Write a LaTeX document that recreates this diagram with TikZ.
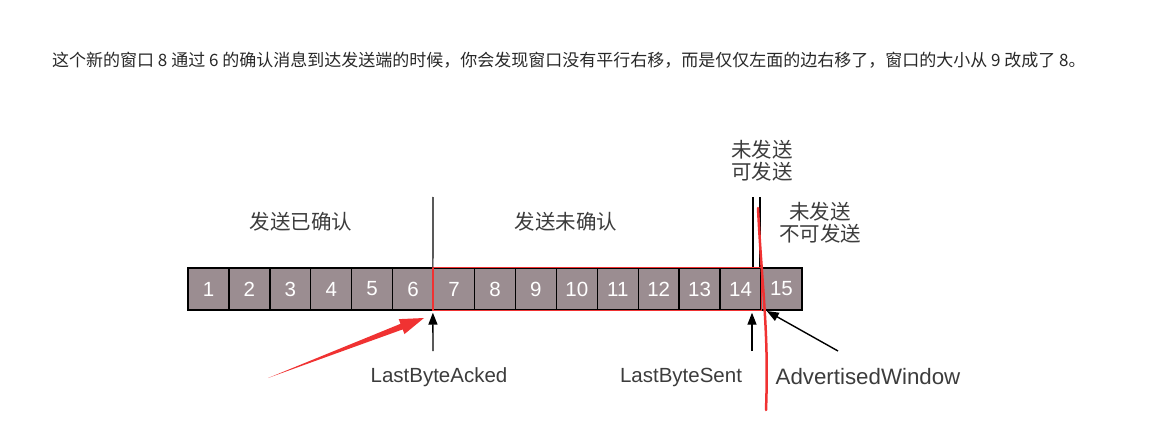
\documentclass[tikz,border=0pt]{standalone}
\usepackage{fontspec}
\setmainfont{Liberation Sans}
\newfontfamily\cjk{Noto Sans CJK SC}
\usepackage{tikz}
\usetikzlibrary{positioning, arrows.meta, calc}
\definecolor{CellColor}{RGB}{155,141,145}
\definecolor{LabelColor}{RGB}{60,60,60}
\definecolor{MarkRed}{RGB}{240,50,50}
\definecolor{BodyText}{RGB}{40,40,40}
\tikzstyle{cell} = [draw=black, line width=1.4pt, fill=CellColor, minimum width=40.93pt, minimum height=42pt, inner sep=0pt, text=white, font=\fontsize{20.5}{20.5}\selectfont]
\tikzstyle{zone} = [text=LabelColor, font=\cjk\fontsize{20.5}{25}\selectfont, align=center]
\tikzstyle{pointer} = [text=LabelColor, font=\fontsize{20.5}{23}\selectfont]
\tikzstyle{arrow} = [line width=1.4pt, black, -{Triangle[length=12pt,width=9pt]}, shorten >=2pt]

\begin{document}
\begin{tikzpicture}[x=1pt, y=-1pt]
    \useasboundingbox (0,0) rectangle (1165,433);
    % Explanation line above the diagram
    \node[anchor=west, text=BodyText, font=\cjk\fontsize{17}{19}\selectfont, inner sep=0pt] (intro) at (52,60) {这个新的窗口 8 通过 6 的确认消息到达发送端的时候，你会发现窗口没有平行右移，而是仅仅左面的边右移了，窗口的大小从 9 改成了 8。};

    % Byte cells
    \foreach \i in {1,...,15}
        \node[cell] (c\i) at ({188+40.93*(\i-0.5)}, 289) {\i};

    % Window frame (sent but not acked)
    \draw[MarkRed, line width=1.4pt] (c7.north west) rectangle (c14.south east);

    % Boundary lines
    \coordinate (ackTop) at (433,197);
    \coordinate (sentTop) at (753,197);
    \coordinate (advTop) at (760,197);
    \draw[line width=1.2pt] (c7.north west) -- (ackTop);
    \draw[line width=1.2pt] (sentTop) -- (sentTop |- c14.north);
    \draw[line width=1.2pt] (advTop) -- (advTop |- c14.north);

    % Zone labels
    \node[zone] (acked) at (301,222) {发送已确认};
    \node[zone] (unacked) at (566,222) {发送未确认};
    \node[zone] (usable) at (762,161) {未发送\\[-3pt]可发送};
    \node[zone] (unusable) at (820,223) {未发送\\[-3pt]不可发送};

    % Pointer labels
    \node[pointer] (lastAcked) at (439,377) {LastByteAcked};
    \node[pointer] (lastSent) at (681,377) {LastByteSent};
    \node[pointer, font=\fontsize{22.3}{24}\selectfont] (advWin) at (868,377) {AdvertisedWindow};

    \coordinate (ackTail) at (433,351);
    \coordinate (sentTail) at (752,351);
    \coordinate (advTail) at (838,351);
    \draw[arrow] (ackTail) -- (c7.south west);
    \draw[arrow] (sentTail) -- (sentTail |- c14.south);
    \draw[arrow] (advTail) -- (765,310);

    % Hand-drawn red marks
    \coordinate (redTail) at (268,378);
    \coordinate (redTip) at (424,318);
    \coordinate (redBase) at ($(redTip)!24pt!(redTail)$);
    \fill[MarkRed] (redTail)
        -- ($(redBase)!3pt!90:(redTip)$) -- ($(redBase)!8pt!90:(redTip)$)
        -- (redTip)
        -- ($(redBase)!8pt!-90:(redTip)$) -- ($(redBase)!3pt!-90:(redTip)$) -- cycle;
    \draw[MarkRed, line width=2.5pt, line cap=round] (758,208) .. controls (762,290) and (769,330) .. (766,410);
\end{tikzpicture}
\end{document}
